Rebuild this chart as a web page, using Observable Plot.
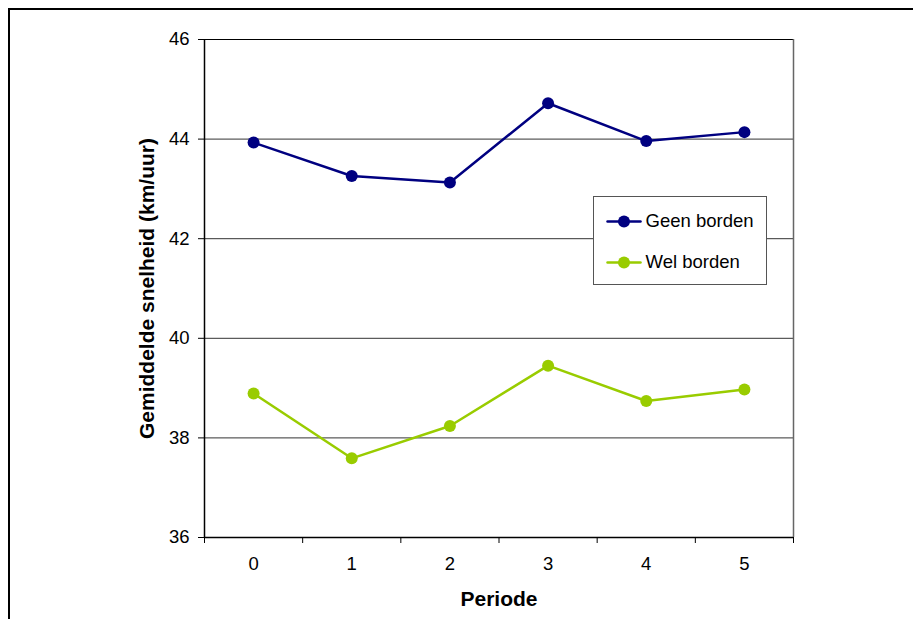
<!DOCTYPE html>
<html><head><meta charset="utf-8">
<script src="https://cdn.jsdelivr.net/npm/d3@7"></script>
<script src="https://cdn.jsdelivr.net/npm/@observablehq/plot@0.6"></script>
<style>
html,body{margin:0;padding:0;background:#fff;overflow:hidden;}
#wrap{position:relative;width:913px;height:619px;overflow:hidden;}
#outer{position:absolute;left:8px;top:8px;width:1000px;height:1000px;border-top:2px solid #000;border-left:2px solid #000;}
#chart{position:absolute;left:0;top:0;}
#legend{position:absolute;left:593px;top:196px;border:1px solid #555;background:#fff;line-height:0;}
</style></head><body>
<div id="wrap"><div id="outer"></div><div id="chart"></div><div id="legend"></div></div>
<script>
const periods = [0, 1, 2, 3, 4, 5];
const seriesNames = ["Geen borden", "Wel borden"];
const geenBorden = [43.93, 43.26, 43.13, 44.72, 43.96, 44.14];
const welBorden = [38.89, 37.59, 38.24, 39.45, 38.74, 38.97];
const yTicks = [36, 38, 40, 42, 44, 46];
const colors = ["#000080", "#99CC00"];
const xTitle = "Periode";
const yTitle = "Gemiddelde snelheid (km/uur)";

const rows = [
  ...periods.map((p, i) => ({series: seriesNames[0], periode: p, v: geenBorden[i]})),
  ...periods.map((p, i) => ({series: seriesNames[1], periode: p, v: welBorden[i]}))
];
const boundaries = [...periods.map(p => p - 0.5), periods[periods.length - 1] + 0.5];
const yMin = yTicks[0], yMax = yTicks[yTicks.length - 1];

const font = "'Liberation Sans', Arial, sans-serif";

const chart = Plot.plot({
  width: 913,
  height: 619,
  marginLeft: 204,
  marginRight: 120,
  marginTop: 39,
  marginBottom: 82,
  style: {fontFamily: font, fontSize: "18.5px", color: "#000", background: "transparent", overflow: "visible"},
  x: {domain: [boundaries[0], boundaries[boundaries.length - 1]], axis: null},
  y: {domain: [yMin, yMax], axis: null},
  color: {domain: seriesNames, range: colors},
  marks: [
    Plot.ruleY(yTicks.filter(d => d > yMin && d < yMax), {stroke: "#333", strokeWidth: 1}),
    Plot.ruleY([yMax], {stroke: "#000", strokeWidth: 1.2}),
    Plot.ruleX([boundaries[boundaries.length - 1]], {stroke: "#666", strokeWidth: 1.5}),
    Plot.ruleX([boundaries[0]], {stroke: "#000", strokeWidth: 1.5}),
    Plot.ruleY([yMin], {stroke: "#000", strokeWidth: 1.5}),
    Plot.axisY(yTicks, {anchor: "left", tickSize: 6, tickPadding: 9, label: null, fontSize: 18.5, tickFormat: d => String(d)}),
    Plot.axisX(boundaries, {anchor: "bottom", tickSize: 6, tickFormat: () => "", label: null}),
    Plot.axisX(periods, {anchor: "bottom", tickSize: 0, tickPadding: 19, label: null, fontSize: 18.5, tickFormat: d => String(d)}),
    Plot.line(rows, {x: "periode", y: "v", stroke: "series", z: "series", strokeWidth: 2.5}),
    Plot.dot(rows, {x: "periode", y: "v", fill: "series", r: 6}),
    Plot.text([xTitle], {frameAnchor: "bottom", dy: 62, text: d => d, fontWeight: "bold", fontSize: 21, lineAnchor: "middle", textAnchor: "middle"}),
    Plot.text([yTitle], {frameAnchor: "left", dx: -57, text: d => d, fontWeight: "bold", fontSize: 21, rotate: -90, lineAnchor: "middle", textAnchor: "middle"})
  ]
});
document.getElementById("chart").appendChild(chart);

const legendRows = seriesNames.flatMap(s => [{series: s, t: 0}, {series: s, t: 1}]);
const legend = Plot.plot({
  width: 172,
  height: 87,
  marginLeft: 13,
  marginRight: 126,
  marginTop: 24,
  marginBottom: 22,
  style: {fontFamily: font, fontSize: "18.5px", color: "#000", background: "#fff", overflow: "visible"},
  x: {domain: [0, 1], axis: null},
  y: {type: "point", domain: seriesNames, padding: 0, axis: null},
  color: {domain: seriesNames, range: colors},
  marks: [
    Plot.line(legendRows, {x: "t", y: "series", z: "series", stroke: "series", strokeWidth: 2.5}),
    Plot.dot(seriesNames, {x: () => 0.5, y: d => d, fill: d => d, r: 6}),
    Plot.text(seriesNames, {x: () => 1, y: d => d, text: d => d, textAnchor: "start", dx: 5, fontSize: 18.5})
  ]
});
document.getElementById("legend").appendChild(legend);
</script>
</body></html>
